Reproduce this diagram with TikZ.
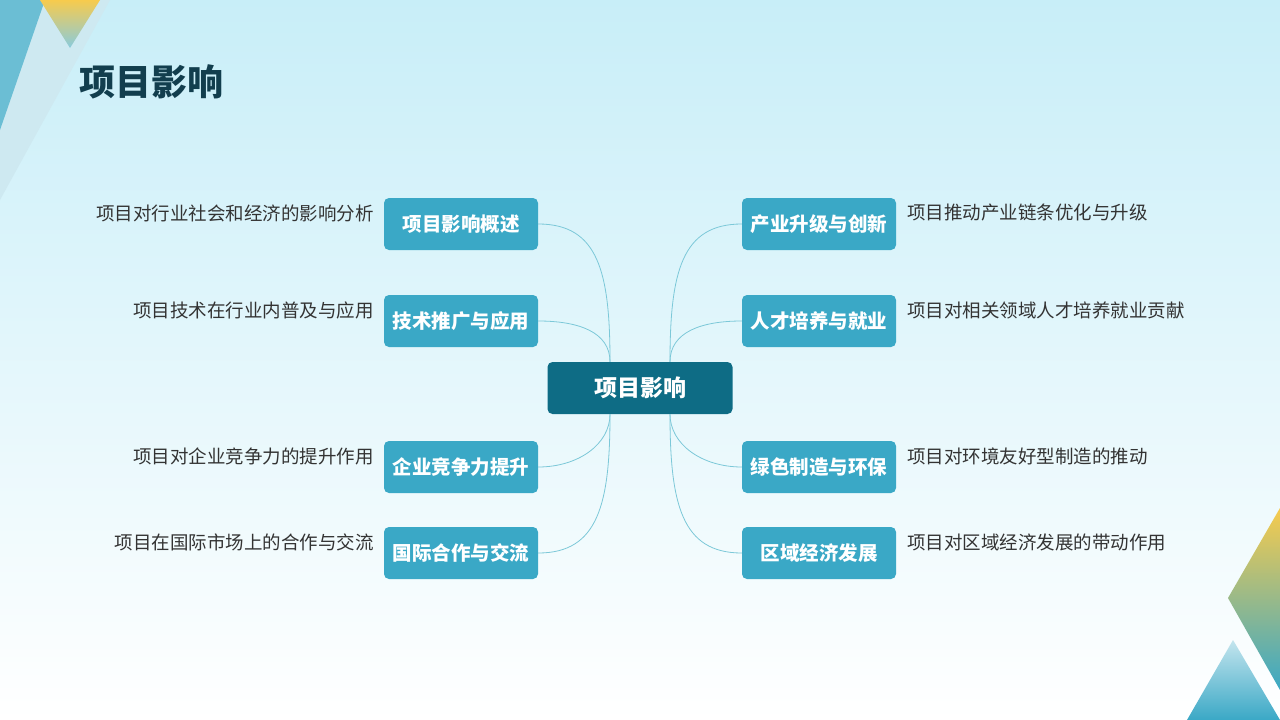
\documentclass[tikz,border=0pt]{standalone}
\usepackage{fontspec}
\setmainfont{Noto Sans CJK SC}
\definecolor{DeepTeal}{HTML}{0E6C85}
\definecolor{BoxBlue}{HTML}{3AA8C6}
\definecolor{LineBlue}{HTML}{7CC8D8}
\definecolor{TitleInk}{HTML}{123E4E}
\definecolor{BgTop}{HTML}{C8EEF8}
\definecolor{Sun}{HTML}{F7CB4D}
\begin{document}
\begin{tikzpicture}[x=1pt, y=-1pt]

      \tikzstyle{Topic}=[rectangle, rounded corners=5pt, fill=BoxBlue, text=white,
        minimum width=154pt, minimum height=52pt, font=\fontsize{19.5}{22}\selectfont\bfseries];
      \tikzstyle{Note}=[font=\fontsize{18.5}{21}\selectfont, text=black!80, inner sep=0pt];
      \tikzstyle{Link}=[draw=LineBlue, thick];

        % background
        \shade[top color=BgTop, bottom color=white] (0,0) rectangle (1280,720);
        \useasboundingbox (0,0) rectangle (1280,720);
        \fill[BoxBlue!25] (0,0) -- (110,0) -- (0,200) -- cycle;
        \fill[BoxBlue!75] (0,0) -- (45,0) -- (0,130) -- cycle;
        \shade[top color=Sun, bottom color=BoxBlue!60] (40,0) -- (100,0) -- (70,48) -- cycle;
        \shade[top color=Sun, bottom color=BoxBlue] (1280,508) -- (1228,598) -- (1280,690) -- cycle;
        \shade[top color=BoxBlue!30, bottom color=BoxBlue] (1233,640) -- (1187,720) -- (1280,720) -- cycle;

        \node[anchor=west, inner sep=0pt, text=TitleInk, font=\fontsize{36}{40}\selectfont\bfseries](Title) at (79,82) {项目影响};

        \node[rectangle, rounded corners=5pt, fill=DeepTeal, text=white,
          minimum width=185pt, minimum height=52pt,
          font=\fontsize{23}{26}\selectfont\bfseries](Hub) at (640,388) {项目影响};

        % left branches
        \node[Topic](L1) at (461,224) {项目影响概述};
        \node[Topic](L2) at (461,321) {技术推广与应用};
        \node[Topic](L3) at (461,467) {企业竞争力提升};
        \node[Topic](L4) at (461,553) {国际合作与交流};
        \node[Note, anchor=east](L1n) at (374,213) {项目对行业社会和经济的影响分析};
        \node[Note, anchor=east](L2n) at (374,310) {项目技术在行业内普及与应用};
        \node[Note, anchor=east](L3n) at (374,456) {项目对企业竞争力的提升作用};
        \node[Note, anchor=east](L4n) at (374,542) {项目在国际市场上的合作与交流};

        % right branches
        \node[Topic](R1) at (819,224) {产业升级与创新};
        \node[Topic](R2) at (819,321) {人才培养与就业};
        \node[Topic](R3) at (819,467) {绿色制造与环保};
        \node[Topic](R4) at (819,553) {区域经济发展};
        \node[Note, anchor=west](R1n) at (907,213) {项目推动产业链条优化与升级};
        \node[Note, anchor=west](R2n) at (907,310) {项目对相关领域人才培养就业贡献};
        \node[Note, anchor=west](R3n) at (907,456) {项目对环境友好型制造的推动};
        \node[Note, anchor=west](R4n) at (907,542) {项目对区域经济发展的带动作用};

        \coordinate (HubL) at ([xshift=-30pt]Hub.north);
        \coordinate (HubR) at ([xshift=30pt]Hub.north);
        \coordinate (HubLs) at ([xshift=-30pt]Hub.south);
        \coordinate (HubRs) at ([xshift=30pt]Hub.south);
        \draw[Link] (HubL) .. controls +(0,-90) and +(60,0) .. (L1.east);
        \draw[Link] (HubL) .. controls +(0,-30) and +(40,0) .. (L2.east);
        \draw[Link] (HubLs) .. controls +(0,30) and +(40,0) .. (L3.east);
        \draw[Link] (HubLs) .. controls +(0,90) and +(60,0) .. (L4.east);
        \draw[Link] (HubR) .. controls +(0,-90) and +(-60,0) .. (R1.west);
        \draw[Link] (HubR) .. controls +(0,-30) and +(-40,0) .. (R2.west);
        \draw[Link] (HubRs) .. controls +(0,30) and +(-40,0) .. (R3.west);
        \draw[Link] (HubRs) .. controls +(0,90) and +(-60,0) .. (R4.west);

    \end{tikzpicture}
\end{document}
